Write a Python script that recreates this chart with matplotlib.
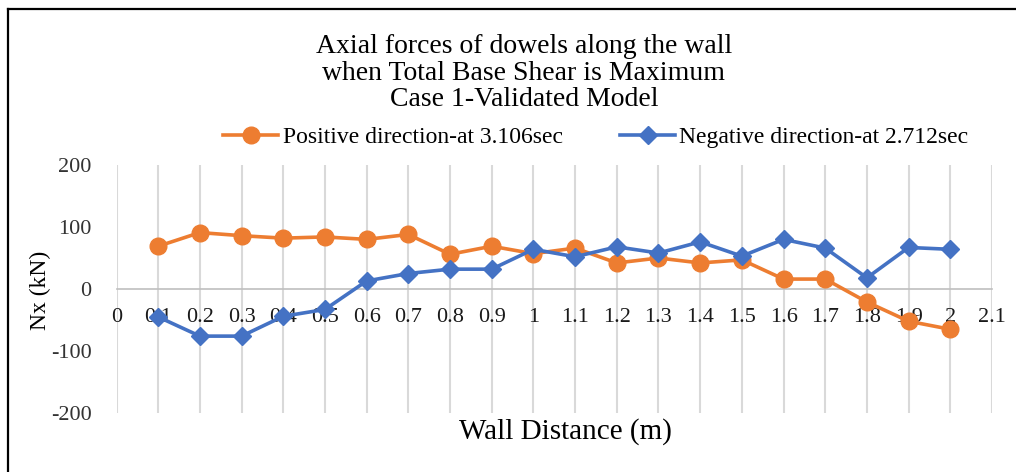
import matplotlib

matplotlib.use("Agg")
import matplotlib.pyplot as plt
from matplotlib.lines import Line2D

# dowel positions along the wall (m) and axial forces Nx (kN)
distance = [0.1, 0.2, 0.3, 0.4, 0.5, 0.6, 0.7, 0.8, 0.9, 1.0,
            1.1, 1.2, 1.3, 1.4, 1.5, 1.6, 1.7, 1.8, 1.9, 2.0]
nx_positive = [69, 91, 86, 82, 84, 80, 88, 56, 69, 57,
               66, 42, 50, 42, 47, 16, 16, -21, -52, -65]
nx_negative = [-45, -76, -76, -44, -33, 13, 25, 32, 32, 64,
               52, 68, 58, 76, 53, 80, 66, 18, 67, 64]

x_ticks = [i / 10 for i in range(22)]
x_labels = ["0", "0.1", "0.2", "0.3", "0.4", "0.5", "0.6", "0.7", "0.8", "0.9", "1",
            "1.1", "1.2", "1.3", "1.4", "1.5", "1.6", "1.7", "1.8", "1.9", "2", "2.1"]
y_ticks = [-200, -100, 0, 100, 200]
title_lines = ["Axial forces of dowels along the wall",
               "when Total Base Shear is Maximum",
               "Case 1-Validated Model"]

ORANGE = "#ED7D31"
BLUE = "#4472C4"
GRID = "#d9d9d9"
W, H = 1016, 472

plt.rcParams["font.family"] = ["Liberation Serif", "DejaVu Serif"]
plt.rcParams["axes.unicode_minus"] = False

fig = plt.figure(figsize=(W / 100, H / 100), dpi=100)
ax = fig.add_axes([116.5 / W, 1 - 413 / H, 875.5 / W, 248 / H])

ax.plot(distance, nx_positive, color=ORANGE, lw=2.6, marker="o", ms=12,
        label="Positive direction-at 3.106sec", zorder=3)
ax.plot(distance, nx_negative, color=BLUE, lw=2.6, marker="D", ms=9,
        label="Negative direction-at 2.712sec", zorder=4)

ax.set_xlim(0, 2.1)
ax.set_ylim(-200, 200)
ax.set_xticks(x_ticks)
ax.set_xticklabels(x_labels)
ax.set_yticks(y_ticks)
ax.set_yticklabels([str(v) for v in y_ticks])
ax.grid(axis="x", color=GRID, lw=1.5)
ax.set_axisbelow(True)

for side in ("top", "right", "left"):
    ax.spines[side].set_visible(False)
ax.spines["bottom"].set_position(("data", 0))
ax.spines["bottom"].set_color("#bfbfbf")
ax.spines["bottom"].set_linewidth(1.2)
ax.tick_params(axis="x", length=0, pad=14, labelsize=16, labelcolor="#1a1a1a")
ax.tick_params(axis="y", length=0, pad=18, labelsize=16, labelcolor="#333333")

# three-line title, one baseline per line
for line, base in zip(title_lines, (53, 80, 106)):
    fig.text(524 / W, 1 - base / H, line, ha="center", va="baseline", fontsize=20)
fig.text(40 / W, 1 - 290 / H, "Nx (kN)", rotation=90, ha="center",
         va="center", fontsize=17)
fig.text(565 / W, 1 - 439 / H, "Wall Distance (m)", ha="center",
         va="baseline", fontsize=21)

fig.legend(loc="center", bbox_to_anchor=(596 / W, 1 - 137 / H), ncol=2,
           frameon=False, fontsize=17, handlelength=2.3, handletextpad=0.2,
           columnspacing=2.45, borderpad=0, borderaxespad=0)

# frame edges along the top and left of the image
fig.add_artist(Line2D([8.3 / W, 8.3 / W], [0, 1 - 9.2 / H],
                      color="black", lw=1.6, transform=fig.transFigure))
fig.add_artist(Line2D([8.3 / W, 1], [1 - 9.2 / H, 1 - 9.2 / H],
                      color="black", lw=1.6, transform=fig.transFigure))

fig.savefig("out.png", dpi=100)
